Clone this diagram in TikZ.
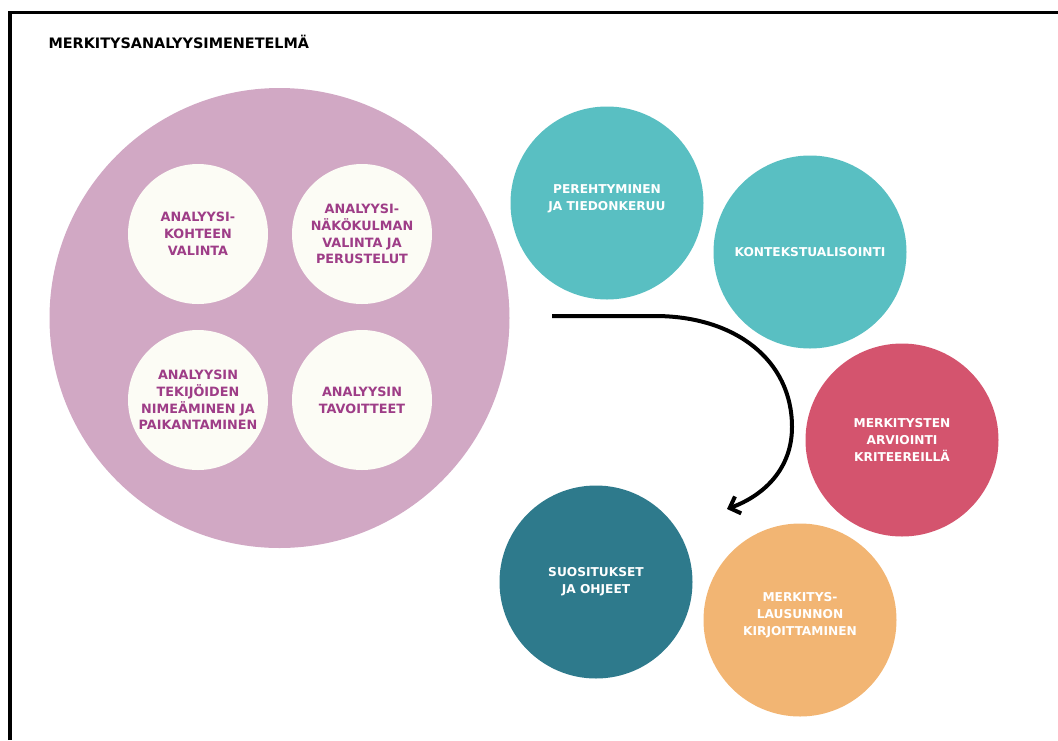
\documentclass[tikz,border=0pt]{standalone}
\usepackage{fontspec}
\setmainfont{DejaVu Sans}
\usetikzlibrary{arrows.meta}
\definecolor{lilac}{rgb}{0.82, 0.66, 0.77}
\definecolor{cream}{rgb}{0.99, 0.99, 0.96}
\definecolor{plum}{rgb}{0.62, 0.24, 0.53}
\definecolor{seablue}{rgb}{0.35, 0.75, 0.76}
\definecolor{raspberry}{rgb}{0.83, 0.33, 0.43}
\definecolor{petrol}{rgb}{0.18, 0.48, 0.55}
\definecolor{apricot}{rgb}{0.95, 0.71, 0.45}

\begin{document}
\begin{tikzpicture}[x=1pt,y=-1pt,
  phase/.style={circle,inner sep=0pt,minimum size=193pt,align=center,
    text=white,font=\bfseries\fontsize{12.2}{17}\selectfont},
  stage/.style={circle,inner sep=0pt,minimum size=140pt,align=center,
    fill=cream,text=plum,font=\bfseries\fontsize{12.8}{16.8}\selectfont}]
\useasboundingbox (0,0) rectangle (1058,740);
\draw[line width=3.5pt] (10,740) -- (10,12.5) -- (1058,12.5);

\node[anchor=base west,font=\bfseries\fontsize{14.4}{17}\selectfont] (title) at (45,48) {MERKITYSANALYYSIMENETELMÄ};

% left: the preparation
\node[circle,fill=lilac,minimum size=460pt] (method) at (279.5,318) {};
\node[stage] (kohde) at (198,234) {ANALYYSI-\\KOHTEEN\\VALINTA};
\node[stage] (kulma) at (362,234) {ANALYYSI-\\NÄKÖKULMAN\\VALINTA JA\\PERUSTELUT};
\node[stage] (tekijat) at (198,400) {ANALYYSIN\\TEKIJÖIDEN\\NIMEÄMINEN JA\\PAIKANTAMINEN};
\node[stage] (tavoite) at (362,400) {ANALYYSIN\\TAVOITTEET};

% right: the cycle
\node[phase,fill=seablue] (tieto) at (607,203) {PEREHTYMINEN\\JA TIEDONKERUU\\[-7pt]};
\node[phase,fill=seablue] (konteksti) at (810,252) {KONTEKSTUALISOINTI};
\node[phase,fill=raspberry] (arvio) at (902,440) {MERKITYSTEN\\ARVIOINTI\\KRITEEREILLÄ};
\node[phase,fill=apricot] (lausunto) at (800,620) {MERKITYS-\\LAUSUNNON\\KIRJOITTAMINEN\\[-5pt]};
\node[phase,fill=petrol] (suositus) at (596,582) {SUOSITUKSET\\JA OHJEET};

\coordinate (from) at (552,316);
\coordinate (to) at (727,509);
\draw[line width=4pt,-{Straight Barb[length=9pt,width=18pt]}] (from) -- (655,316)
  .. controls (735,316) and (792,360) .. (792,427)
  .. controls (792,468) and (765,495) .. (to);
\end{tikzpicture}
\end{document}
